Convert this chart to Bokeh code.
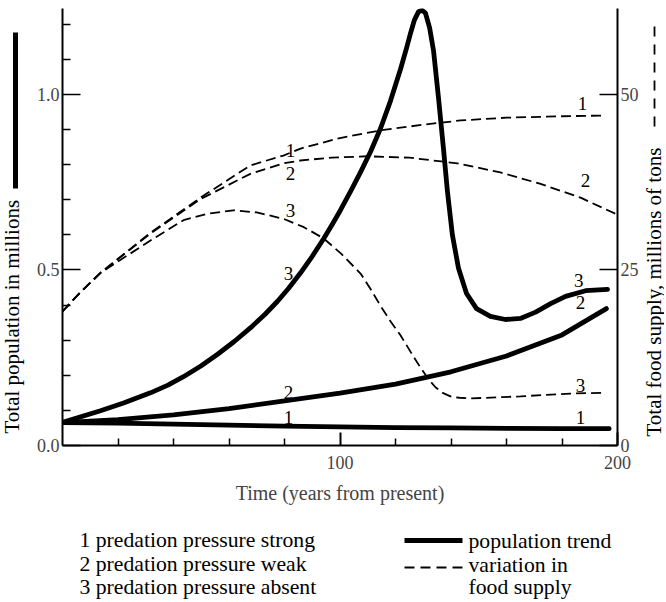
import math
from bokeh.plotting import figure
from bokeh.layouts import row, column
from bokeh.models import (LinearAxis, Range1d, FixedTicker, ColumnDataSource,
                          PrintfTickFormatter)
from bokeh.core.properties import value
from bokeh.embed import file_html
from bokeh.resources import INLINE

# ---------------- data ----------------
# population trends (millions), left axis
pop1_years = [0, 20, 40, 60, 80, 100, 120, 140, 160, 180, 197]
pop1 = [0.065, 0.064, 0.061, 0.058, 0.055, 0.053, 0.051, 0.050, 0.049, 0.048, 0.048]

pop2_years = [0, 20, 40, 60, 80, 100, 120, 140, 160, 180, 196]
pop2 = [0.065, 0.074, 0.087, 0.105, 0.127, 0.149, 0.175, 0.21, 0.255, 0.315, 0.39]

pop3_years = [0, 13.7, 22, 31.7, 38, 43.6, 50, 55.9, 62, 67.7, 73, 77.5, 81.5, 85.8, 90,
              94.1, 97.3, 100.2, 104, 107.4, 111, 114.6, 118.2, 121.8, 124, 125.4, 126.8,
              128.3, 129.6, 130.8, 132.3, 133.7, 135.5, 137.3, 138.7, 140.5, 142.7, 145.6,
              149.2, 154.2, 159.6, 165, 170.5, 175.9, 181.3, 188.5, 196.4]
pop3 = [0.066, 0.099, 0.121, 0.150, 0.172, 0.196, 0.227, 0.260, 0.297, 0.335, 0.374, 0.411,
        0.448, 0.492, 0.539, 0.589, 0.631, 0.671, 0.727, 0.779, 0.837, 0.903, 0.982, 1.072,
        1.133, 1.174, 1.212, 1.236, 1.240, 1.232, 1.190, 1.125, 0.990, 0.845, 0.725, 0.600,
        0.505, 0.433, 0.390, 0.368, 0.359, 0.362, 0.380, 0.404, 0.425, 0.441, 0.445]

# food supply (millions of tons), right axis
food1_years = [0, 5.4, 13.7, 31.7, 49.7, 67.7, 79.6, 85.8, 100, 114.6, 130, 143.4, 160, 180, 195]
food1 = [19.1, 21.4, 24.6, 30.3, 35.3, 39.9, 41.3, 42.3, 43.8, 44.9, 45.7, 46.3, 46.7, 46.9, 47.0]

food2_years = [0, 5.4, 13.7, 31.7, 49.7, 67.7, 79.6, 85.8, 97, 109.9, 125, 142.3, 157.8, 172, 186.7, 199.3]
food2 = [19.1, 21.4, 24.6, 30.2, 35.1, 38.7, 40.2, 40.6, 41.0, 41.2, 41.0, 40.2, 38.9, 37.3, 35.3, 33.0]

food3_years = [0, 5.4, 13.7, 31.7, 43.6, 52, 61.6, 70, 79.6, 87, 94.1, 100.5, 107.4, 111,
               114.6, 118, 121.8, 125.5, 129, 131.8, 134.4, 137, 139.8, 143, 147, 165, 183, 195]
food3 = [19.1, 21.4, 24.6, 29.2, 32.1, 33.0, 33.5, 33.2, 32.3, 31.1, 29.5, 27.3, 24.5, 22.3,
         19.9, 17.8, 15.7, 13.3, 11.1, 9.5, 8.3, 7.5, 7.0, 6.8, 6.7, 7.0, 7.4, 7.5]

# curve number tags (year, population-axis value, text)
tag_years = [82.2, 82.2, 82.2, 81.4, 81.4, 81.4, 187.4, 188.5, 186.0, 186.7, 186.7, 186.7]
tag_vals = [0.840, 0.775, 0.670, 0.490, 0.151, 0.080, 0.974, 0.755, 0.470, 0.407, 0.171, 0.080]
tag_text = ["1", "2", "3", "3", "2", "1", "1", "2", "3", "2", "3", "1"]

x_ticks = [100, 200]
x_minor = [20, 40, 60, 80, 120, 140, 160, 180]
left_ticks = [0, 0.5, 1.0]
left_minor = [0.1, 0.2, 0.3, 0.4, 0.6, 0.7, 0.8, 0.9, 1.1, 1.2]
right_ticks = [0, 25, 50]

left_title = "Total population in millions"
right_title = "Total food supply, millions of tons"
legend_left = ["1 predation pressure strong", "2 predation pressure weak",
               "3 predation pressure absent"]
legend_right = ["population trend", "variation in", "food supply"]

SERIF = value("Liberation Serif")
FONT = "Liberation Serif"

TOP_H = 512
LEFT_W = 30
MAIN_W = 612
RIGHT_W = 22
LEG_H = 88
TOTAL_W = LEFT_W + MAIN_W + RIGHT_W
BORDER_TOP = 8
BORDER_BOTTOM = 67


def blank(w, h, y_top, y_bottom, bt=0, bb=0):
    f = figure(width=w, height=h, x_range=Range1d(0, w), y_range=Range1d(y_bottom, y_top),
               output_backend="svg", toolbar_location=None,
               x_axis_type=None, y_axis_type=None,
               min_border_left=0, min_border_right=0, min_border_top=bt, min_border_bottom=bb)
    f.grid.visible = False
    f.outline_line_color = None
    f.background_fill_color = "white"
    f.border_fill_color = "white"
    return f


# ---------------- main figure ----------------
p = figure(width=MAIN_W, height=TOP_H, x_range=Range1d(0, 200), y_range=Range1d(0, 1.245),
           output_backend="svg", toolbar_location=None,
           min_border_left=32, min_border_right=25, min_border_top=BORDER_TOP,
           min_border_bottom=BORDER_BOTTOM)
p.grid.visible = False
p.outline_line_color = None
p.background_fill_color = "white"
p.border_fill_color = "white"
p.extra_y_ranges = {"food": Range1d(0, 62.25)}

xa = p.xaxis[0]
xa.ticker = FixedTicker(ticks=x_ticks, minor_ticks=x_minor)
xa.major_tick_in = 13
xa.major_tick_out = 0
xa.minor_tick_in = 7
xa.minor_tick_out = 0
xa.axis_line_width = 2
xa.major_tick_line_width = 2
xa.minor_tick_line_width = 1.5
xa.major_label_text_font = FONT
xa.major_label_text_font_size = "18px"
xa.major_label_standoff = 10
xa.axis_label = "Time (years from present)"
xa.axis_label_text_font = FONT
xa.axis_label_text_font_size = "20px"
xa.axis_label_text_font_style = "normal"
xa.axis_label_standoff = 10

ya = p.yaxis[0]
ya.ticker = FixedTicker(ticks=left_ticks, minor_ticks=left_minor)
ya.formatter = PrintfTickFormatter(format="%.1f")
ya.major_tick_in = 18
ya.major_tick_out = 0
ya.minor_tick_in = 8
ya.minor_tick_out = 0
ya.axis_line_width = 2
ya.major_tick_line_width = 1.5
ya.minor_tick_line_width = 1.5
ya.major_label_text_font = FONT
ya.major_label_text_font_size = "18px"
ya.major_label_standoff = 3

ra = LinearAxis(y_range_name="food", ticker=FixedTicker(ticks=right_ticks, minor_ticks=[]))
ra.major_tick_in = 18
ra.major_tick_out = 0
ra.minor_tick_in = 0
ra.minor_tick_out = 0
ra.axis_line_width = 2
ra.major_tick_line_width = 1.5
ra.major_label_text_font = FONT
ra.major_label_text_font_size = "18px"
ra.major_label_standoff = 3
p.add_layout(ra, "right")

for xs, ys in [(pop1_years, pop1), (pop2_years, pop2), (pop3_years, pop3)]:
    p.line(xs, ys, line_color="black", line_width=4.8, line_join="round", line_cap="round")

for xs, ys in [(food1_years, food1), (food2_years, food2), (food3_years, food3)]:
    p.line(xs, ys, y_range_name="food", line_color="black", line_width=1.8, line_dash="10 5")

tags = ColumnDataSource(dict(x=tag_years, y=tag_vals, t=tag_text))
p.text(x="x", y="y", text="t", source=tags, text_font=SERIF, text_font_size="19px",
       text_align="center", text_baseline="middle", text_color="black")

# ---------------- left strip: axis title + solid key (pixel coordinates) ----------------
frame_top = BORDER_TOP
frame_bottom = TOP_H - BORDER_BOTTOM
lf = blank(LEFT_W, TOP_H, frame_top, frame_bottom, BORDER_TOP, BORDER_BOTTOM)
lf.text(x=[11], y=[433], text=[left_title], angle=math.pi / 2, text_font=SERIF,
        text_font_size="21px", text_align="left", text_baseline="middle", text_color="black")
lf.line(x=[15, 15], y=[188, 32], line_width=5, line_color="black")

# ---------------- right strip: axis title + dashed key ----------------
rf = blank(RIGHT_W, TOP_H, frame_top, frame_bottom, BORDER_TOP, BORDER_BOTTOM)
rf.text(x=[11], y=[436], text=[right_title], angle=math.pi / 2, text_font=SERIF,
        text_font_size="21px", text_align="left", text_baseline="middle", text_color="black")
rf.line(x=[12, 12], y=[126, 22], line_width=1.8, line_color="black", line_dash="10 8")

# ---------------- bottom legend ----------------
lg = blank(TOTAL_W, LEG_H, 0, LEG_H)
lg.text(x=[79, 79, 79], y=[27, 51, 74], text=legend_left, text_font=SERIF,
        text_font_size="21.7px", text_align="left", text_baseline="middle", text_color="black")
lg.line(x=[404, 462], y=[28, 28], line_width=5, line_color="black")
lg.line(x=[404, 462], y=[55, 55], line_width=1.8, line_color="black", line_dash="10 6")
lg.text(x=[468, 468, 468], y=[28, 52, 74], text=legend_right, text_font=SERIF,
        text_font_size="21.7px", text_align="left", text_baseline="middle", text_color="black")

layout = column(row(lf, p, rf), lg)
open("out.html", "w").write(file_html(layout, INLINE))
